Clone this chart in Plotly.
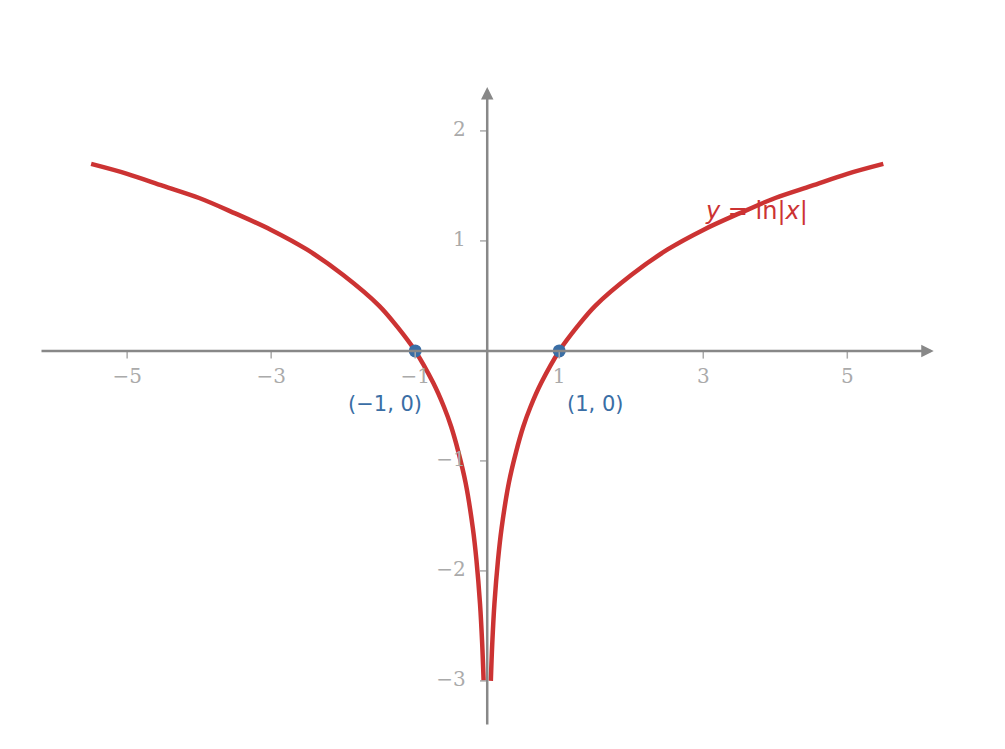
import plotly.graph_objects as go

x_right = [0.05, 0.07, 0.1, 0.15, 0.2, 0.3, 0.4, 0.5, 0.6, 0.75, 1.0, 1.25, 1.5, 2.0, 2.5, 3.0, 3.5, 4.0, 4.5, 5.0, 5.5]
y_right = [-3.0, -2.66, -2.3, -1.9, -1.61, -1.2, -0.92, -0.69, -0.51, -0.29, 0.0, 0.22, 0.41, 0.69, 0.92, 1.1, 1.25, 1.39, 1.5, 1.61, 1.7]
x_left = [-v for v in x_right]
y_left = y_right

x_ticks = [-5, -3, -1, 1, 3, 5]
y_ticks = [-3, -2, -1, 1, 2]
pts_x = [-1, 1]
pts_y = [0, 0]
pts_text = ["(\u22121, 0)", "(1, 0)"]

axis_col = "#888888"
lab_col = "#aaaaaa"
red = "#cc3333"
blue = "#3a6ea5"

fig = go.Figure()
for xs, ys in [(x_left, y_left), (x_right, y_right)]:
    fig.add_trace(go.Scatter(x=xs, y=ys, mode="lines", line=dict(color=red, width=4.5, shape="spline"),
                             hoverinfo="skip"))

fig.add_trace(go.Scatter(x=pts_x, y=pts_y, mode="markers", marker=dict(color=blue, size=13)))

# axes with arrows
fig.add_annotation(x=6.2, y=0, ax=-6.21, ay=0, xref="x", yref="y", axref="x", ayref="y",
                   showarrow=True, arrowhead=2, arrowsize=1, arrowwidth=2.5, arrowcolor=axis_col, text="")
fig.add_annotation(x=0, y=2.4, ax=0, ay=-3.41, xref="x", yref="y", axref="x", ayref="y",
                   showarrow=True, arrowhead=2, arrowsize=1, arrowwidth=2.5, arrowcolor=axis_col, text="")

# tick marks
for t in x_ticks:
    fig.add_shape(type="line", x0=t, x1=t, y0=0, y1=-0.07, line=dict(color=lab_col, width=1.5))
for t in y_ticks:
    fig.add_shape(type="line", x0=0, x1=-0.1, y0=t, y1=t, line=dict(color=lab_col, width=1.5))

serif = "DejaVu Serif"
fig.add_trace(go.Scatter(x=x_ticks, y=[-0.25] * len(x_ticks), mode="text",
                         text=[str(t).replace("-", "\u2212") for t in x_ticks],
                         textfont=dict(family=serif, size=20, color=lab_col)))
fig.add_trace(go.Scatter(x=[-0.3] * len(y_ticks), y=y_ticks, mode="text",
                         text=[str(t).replace("-", "\u2212") for t in y_ticks],
                         textposition="middle left",
                         textfont=dict(family=serif, size=20, color=lab_col)))

fig.add_annotation(x=-1.42, y=-0.48, text=pts_text[0], showarrow=False, font=dict(size=21, color=blue, family="DejaVu Sans"))
fig.add_annotation(x=1.5, y=-0.48, text=pts_text[1], showarrow=False, font=dict(size=21, color=blue, family="DejaVu Sans"))
fig.add_annotation(x=3.0, y=1.27, text="<i>y</i> = ln|<i>x</i>|", showarrow=False, xanchor="left",
                   font=dict(size=24, color=red, family="DejaVu Sans"))
fig.add_annotation(x=6.75, y=-0.28, text="<i>x</i>", showarrow=False, font=dict(size=28, color=lab_col, family="DejaVu Sans"))
fig.add_annotation(x=0.48, y=2.73, text="<i>y</i>", showarrow=False, font=dict(size=28, color=lab_col, family="DejaVu Sans"))

fig.update_layout(width=1005, height=749, showlegend=False, plot_bgcolor="white", paper_bgcolor="white",
                  margin=dict(l=32, r=80, t=80, b=31),
                  xaxis=dict(range=[-6.21, 6.19], visible=False),
                  yaxis=dict(range=[-3.41, 2.39], visible=False))
fig.write_html("out.html")
